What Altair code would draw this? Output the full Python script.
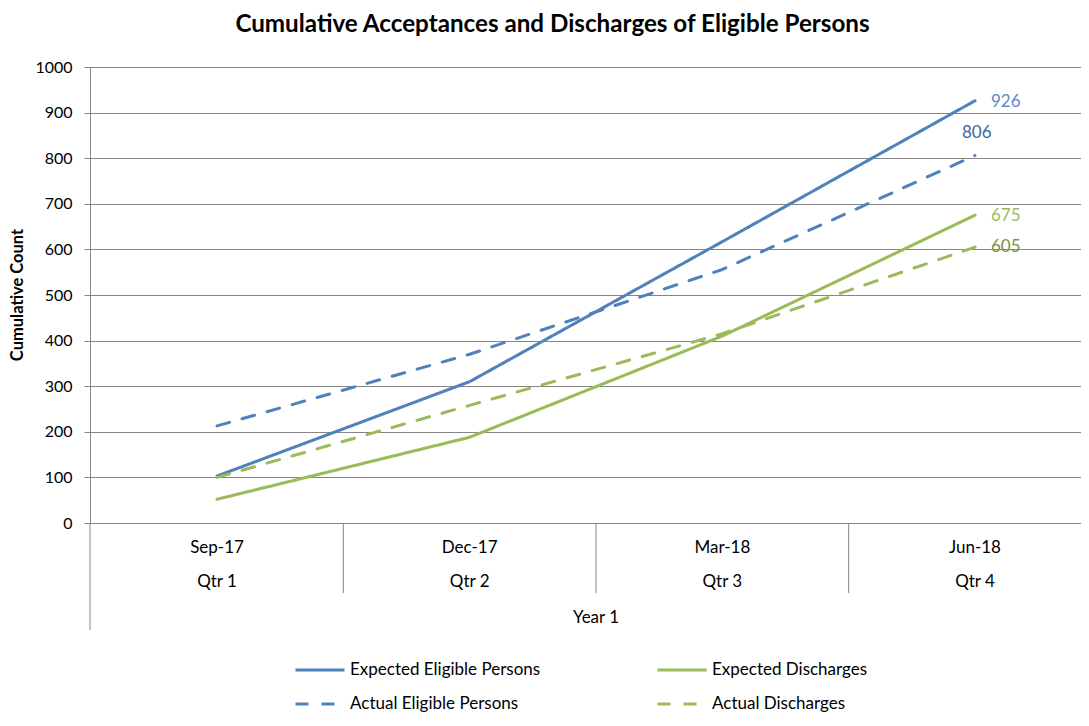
import altair as alt
import pandas as pd

# ---------------- data ----------------
months = ["Sep-17", "Dec-17", "Mar-18", "Jun-18"]
quarters = ["Qtr 1", "Qtr 2", "Qtr 3", "Qtr 4"]
year_label = "Year 1"
series_names = ["Expected Eligible Persons", "Expected Discharges",
                "Actual Eligible Persons", "Actual Discharges"]
expected_eligible = [103, 310, 617, 926]
expected_discharges = [52, 188, 410, 675]
actual_eligible = [213, 370, 556, 806]
actual_discharges = [100, 258, 415, 605]
y_ticks = [0, 100, 200, 300, 400, 500, 600, 700, 800, 900, 1000]
title_text = "Cumulative Acceptances and Discharges of Eligible Persons"
y_title = "Cumulative Count"

# ---------------- styles ----------------
series_colors = ["#4F81BD", "#9BBB59", "#4F81BD", "#9BBB59"]
series_dash = [[1, 0], [1, 0], [13, 13], [13, 13]]
label_colors = {"Expected Eligible Persons": "#5A8ACB",
                "Expected Discharges": "#9BBB59",
                "Actual Eligible Persons": "#3D679B",
                "Actual Discharges": "#76923C"}
label_offsets = {"Expected Eligible Persons": (16, 1, "left"),
                 "Expected Discharges": (16, 1, "left"),
                 "Actual Eligible Persons": (-13, -22, "left"),
                 "Actual Discharges": (16, 0, "left")}
FONT = "Lato"
FS = 17
GRID = "#868686"
W, H = 991, 456

rows = []
for name, vals in zip(series_names, [expected_eligible, expected_discharges,
                                     actual_eligible, actual_discharges]):
    for i, v in enumerate(vals):
        rows.append({"idx": i, "month": months[i], "series": name, "value": v})
df = pd.DataFrame(rows)

cat_df = pd.DataFrame({"idx": list(range(len(months))), "month": months, "quarter": quarters})
sep_df = pd.DataFrame({"b": [i + 0.5 for i in range(len(months) - 1)]})
year_df = pd.DataFrame({"idx": [(len(months) - 1) / 2], "t": [year_label]})
one_df = pd.DataFrame({"t": [title_text]})
ytitle_df = pd.DataFrame({"t": [y_title]})

xscale = alt.Scale(domain=[-0.50264, 3.4195], nice=False, zero=False)
yscale = alt.Scale(domain=[0, 1000], nice=False)

lines = alt.Chart(df).mark_line(strokeWidth=3, strokeCap="round", strokeJoin="round").encode(
    x=alt.X("idx:Q", scale=xscale, axis=None),
    y=alt.Y("value:Q", scale=yscale,
            axis=alt.Axis(values=y_ticks, format="d", grid=True, gridColor=GRID, gridWidth=1,
                          domainColor=GRID, tickColor=GRID, tickSize=6,
                          labelFont=FONT, labelFontSize=16, labelColor="#000000",
                          labelPadding=12, title=None)),
    color=alt.Color("series:N", sort=series_names,
                    scale=alt.Scale(domain=series_names, range=series_colors),
                    legend=alt.Legend(orient="none", legendX=204, legendY=577, columns=2,
                                      direction="horizontal",
                                      symbolType="stroke", symbolSize=2401, symbolStrokeWidth=3,
                                      labelFont=FONT, labelFontSize=FS, labelColor="#000000",
                                      labelOffset=4, columnPadding=110, rowPadding=0,
                                      labelLimit=400, title=None)),
    strokeDash=alt.StrokeDash("series:N", sort=series_names,
                              scale=alt.Scale(domain=series_names, range=series_dash),
                              legend=alt.Legend(title=None)),
)

month_text = alt.Chart(cat_df).mark_text(font=FONT, fontSize=FS, color="#000000", baseline="middle").encode(
    x=alt.X("idx:Q", scale=xscale, axis=None), y=alt.value(481), text="month:N")
quarter_text = alt.Chart(cat_df).mark_text(font=FONT, fontSize=FS, color="#000000", baseline="middle").encode(
    x=alt.X("idx:Q", scale=xscale, axis=None), y=alt.value(515), text="quarter:N")
year_text = alt.Chart(year_df).mark_text(font=FONT, fontSize=FS, color="#000000", baseline="middle").encode(
    x=alt.X("idx:Q", scale=xscale, axis=None), y=alt.value(551), text="t:N")
seps = alt.Chart(sep_df).mark_rule(color=GRID, strokeWidth=1).encode(
    x=alt.X("b:Q", scale=xscale, axis=None), y=alt.value(456), y2=alt.value(526))
axis_ext = alt.Chart(one_df).mark_rule(color=GRID, strokeWidth=1).encode(
    x=alt.value(0), y=alt.value(456), y2=alt.value(563))

title = alt.Chart(one_df).mark_text(font=FONT, fontSize=24.2, fontWeight="bold", color="#000000",
                                    baseline="middle", align="center").encode(
    x=alt.value(462.5), y=alt.value(-42), text="t:N")
ytitle = alt.Chart(ytitle_df).mark_text(font=FONT, fontSize=16.5, fontWeight="bold", color="#000000",
                                        baseline="middle", align="center", angle=270).encode(
    x=alt.value(-72), y=alt.value(228), text="t:N")

label_layers = []
for name in series_names:
    dx, dy, al = label_offsets[name]
    label_layers.append(
        alt.Chart(df).transform_filter(
            (alt.datum.series == name) & (alt.datum.idx == len(months) - 1)
        ).mark_text(font=FONT, fontSize=FS, color=label_colors[name], align=al,
                    baseline="middle", dx=dx, dy=dy).encode(
            x=alt.X("idx:Q", scale=xscale, axis=None),
            y=alt.Y("value:Q", scale=yscale),
            text=alt.Text("value:Q"))
    )

chart = alt.layer(seps, axis_ext, lines, month_text, quarter_text, year_text,
                  title, ytitle, *label_layers).properties(
    width=W, height=H,
    padding={"left": 82, "top": 59, "right": 0, "bottom": 191},
    autosize=alt.AutoSizeParams(type="none"),
).configure_view(stroke=None)

chart.save("out.html", embed_options={"renderer": "svg", "actions": False})
